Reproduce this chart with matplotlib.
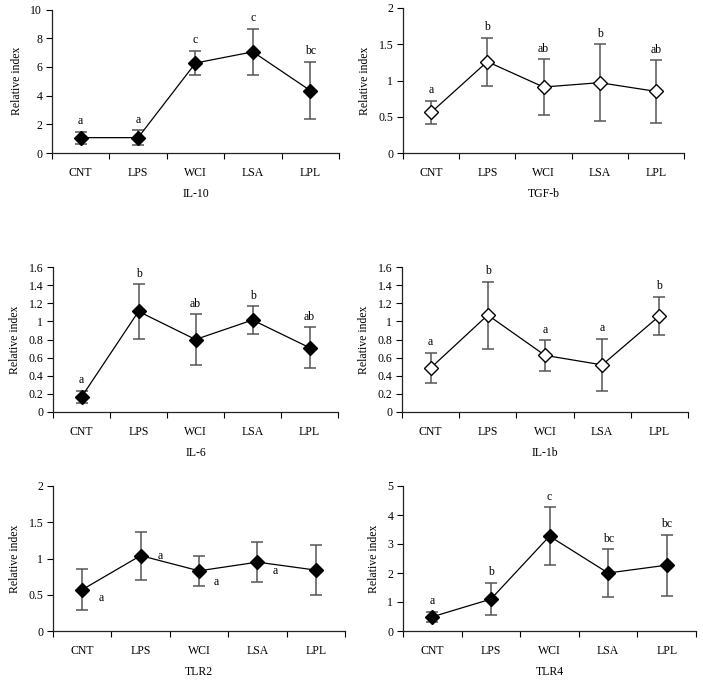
import matplotlib.pyplot as plt
from matplotlib.ticker import FuncFormatter

plt.rcParams["font.family"] = ["Liberation Serif", "DejaVu Serif"]

groups = ["CNT", "LPS", "WCI", "LSA", "LPL"]

il10_mean = [1.07, 1.07, 6.27, 7.05, 4.35]
il10_err = [0.42, 0.5, 0.85, 1.62, 2.0]
il10_letters = ["a", "a", "c", "c", "bc"]

tgfb_mean = [0.56, 1.26, 0.91, 0.97, 0.85]
tgfb_err = [0.16, 0.33, 0.38, 0.53, 0.43]
tgfb_letters = ["a", "b", "ab", "b", "ab"]

il6_mean = [0.165, 1.11, 0.80, 1.015, 0.71]
il6_err = [0.07, 0.30, 0.28, 0.155, 0.225]
il6_letters = ["a", "b", "ab", "b", "ab"]

il1b_mean = [0.485, 1.07, 0.625, 0.52, 1.06]
il1b_err = [0.17, 0.37, 0.17, 0.29, 0.21]
il1b_letters = ["a", "b", "a", "a", "b"]

tlr2_mean = [0.57, 1.04, 0.83, 0.95, 0.84]
tlr2_err = [0.28, 0.33, 0.21, 0.28, 0.34]
# TLR2 letters sit between the points in the original
tlr2_letter_x = [0.33, 1.33, 2.29, 3.31]
tlr2_letter_y = [0.46, 1.03, 0.67, 0.83]

tlr4_mean = [0.49, 1.1, 3.27, 2.0, 2.27]
tlr4_err = [0.18, 0.56, 1.0, 0.83, 1.05]
tlr4_letters = ["a", "b", "c", "bc", "bc"]

W, H = 703, 684
fig = plt.figure(figsize=(W / 100, H / 100), dpi=100)


def make_ax(left, right, top, bottom):
    return fig.add_axes([left / W, 1 - bottom / H, (right - left) / W, (bottom - top) / H])


def draw(ax, mean, err, ymax, ystep, label, open_marker=False, letters=None):
    x = list(range(len(groups)))
    ax.errorbar(x, mean, yerr=err, fmt="none", ecolor="#555555", elinewidth=1.1,
                capsize=4, capthick=1.1, zorder=2)
    ax.plot(x, mean, color="black", lw=0.9, zorder=3)
    ax.plot(x, mean, linestyle="none", marker="D", markersize=7.5,
            markerfacecolor="white" if open_marker else "black",
            markeredgecolor="black", markeredgewidth=1.0, zorder=4)
    if letters:
        for xi, m, e, t in zip(x, mean, err, letters):
            ax.annotate(t, (xi, m + e), xytext=(0, 7.5), textcoords="offset points",
                        ha="center", va="center", fontsize=8.5)
    ax.set_xlim(-0.5, len(groups) - 0.5)
    ax.set_ylim(0, ymax)
    yt = [i * ystep for i in range(int(round(ymax / ystep)) + 1)]
    ax.set_yticks(yt)
    ax.yaxis.set_major_formatter(FuncFormatter(lambda v, p: "%g" % v))
    ax.set_xticks(x)
    ax.set_xticklabels(groups)
    ax.set_xticks([i - 0.5 for i in range(len(groups) + 1)], minor=True)
    ax.tick_params(axis="x", which="major", length=0, pad=10, labelsize=8.5)
    ax.tick_params(axis="x", which="minor", length=4, direction="out", width=0.8)
    ax.tick_params(axis="y", length=4, width=0.8, pad=3, labelsize=8.5)
    for s in ["top", "right"]:
        ax.spines[s].set_visible(False)
    for s in ["left", "bottom"]:
        ax.spines[s].set_linewidth(0.9)
        ax.spines[s].set_color("#222222")
    ax.set_ylabel("Relative index", fontsize=8.5, labelpad=5)
    ax.set_xlabel(label, fontsize=8.5, labelpad=6.5)


ax1 = make_ax(52, 339, 9.5, 153)
draw(ax1, il10_mean, il10_err, 10, 2, "IL-10", letters=il10_letters)

ax2 = make_ax(403, 684, 8, 153)
draw(ax2, tgfb_mean, tgfb_err, 2, 0.5, "TGF-b", open_marker=True, letters=tgfb_letters)

ax3 = make_ax(53, 338, 267, 412)
draw(ax3, il6_mean, il6_err, 1.6, 0.2, "IL-6", letters=il6_letters)

ax4 = make_ax(402, 688, 267, 412)
draw(ax4, il1b_mean, il1b_err, 1.6, 0.2, "IL-1b", open_marker=True, letters=il1b_letters)

ax5 = make_ax(53, 345, 486, 631)
draw(ax5, tlr2_mean, tlr2_err, 2, 0.5, "TLR2")
for lx, ly in zip(tlr2_letter_x, tlr2_letter_y):
    ax5.text(lx, ly, "a", ha="center", va="center", fontsize=8.5)

ax6 = make_ax(403, 696, 486, 631)
draw(ax6, tlr4_mean, tlr4_err, 5, 1, "TLR4", letters=tlr4_letters)

fig.savefig("out.png", dpi=100, facecolor="white")
